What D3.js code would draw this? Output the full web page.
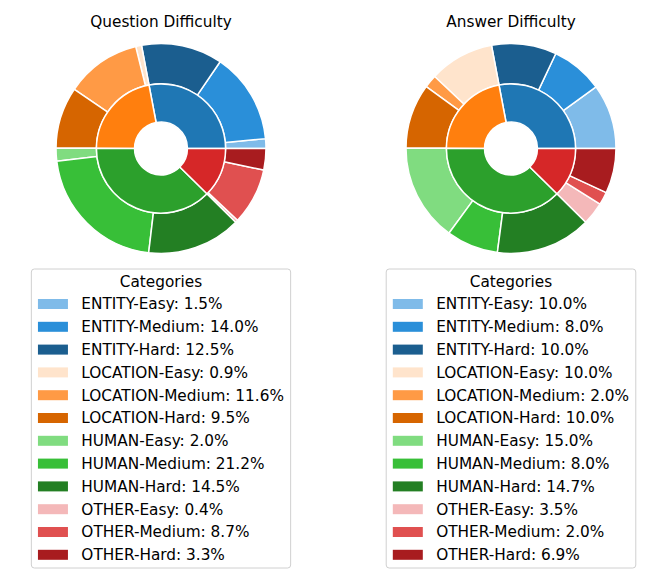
<!DOCTYPE html>
<html>
<head>
<meta charset="utf-8">
<script src="https://cdn.jsdelivr.net/npm/d3@7"></script>
<style>
  html, body { margin: 0; padding: 0; background: #fff; }
  svg { display: block; font-family: "DejaVu Sans", sans-serif; }
</style>
</head>
<body>
<svg id="chart" width="664" height="574"></svg>
<script>
// categories and sub slices
const categories = ["ENTITY", "LOCATION", "HUMAN", "OTHER"];
const levels = ["Easy", "Medium", "Hard"];
const subLabels = categories.flatMap(c => levels.map(l => c + "-" + l));

// percentages
const questionPct = [1.5, 14.0, 12.5, 0.9, 11.6, 9.5, 2.0, 21.2, 14.5, 0.4, 8.7, 3.3];
const answerPct = [10.0, 8.0, 10.0, 10.0, 2.0, 10.0, 15.0, 8.0, 14.7, 3.5, 2.0, 6.9];

const mainColors = ["#1f77b4", "#ff7f0e", "#2ca02c", "#d62728"];
const subColors = [
    "#7fbbe9", "#2a8fd9", "#1b5e8f",
    "#ffe4cc", "#ff9a45", "#d66500",
    "#80dc80", "#38bf38", "#237f23",
    "#f4b8b9", "#e05050", "#a81c1f"
];

const panels = [
    { title: "Question Difficulty", values: questionPct, cx: 161, cy: 148.5, legendTop: 269 },
    { title: "Answer Difficulty", values: answerPct, cx: 511, cy: 148.5, legendTop: 269 }
];

const svg = d3.select("#chart");
const R = 105;
const fontSize = 15.3;

// matplotlib pies start at 3 o'clock and run counterclockwise
const pie = d3.pie().sort(null)
    .startAngle(Math.PI / 2)
    .endAngle(Math.PI / 2 - 2 * Math.PI);

const outerArc = d3.arc().innerRadius(R * 0.615).outerRadius(R);
const innerArc = d3.arc().innerRadius(R * 0.252).outerRadius(R * 0.615);

panels.forEach(p => {
    const g = svg.append("g").attr("transform", `translate(${p.cx},${p.cy})`);

    const mainValues = categories.map((c, i) => d3.sum(p.values.slice(i * 3, i * 3 + 3)));

    g.append("g").selectAll("path")
        .data(pie(p.values))
        .join("path")
        .attr("d", outerArc)
        .attr("fill", (d, i) => subColors[i])
        .attr("stroke", "#fff")
        .attr("stroke-width", 1.5)
        .attr("stroke-linejoin", "round");

    g.append("g").selectAll("path")
        .data(pie(mainValues))
        .join("path")
        .attr("d", innerArc)
        .attr("fill", (d, i) => mainColors[i])
        .attr("stroke", "#fff")
        .attr("stroke-width", 1.5)
        .attr("stroke-linejoin", "round");

    svg.append("text")
        .attr("x", p.cx)
        .attr("y", 27)
        .attr("text-anchor", "middle")
        .attr("font-size", fontSize)
        .attr("fill", "#000")
        .text(p.title);

    // legend
    const lg = svg.append("g");
    const box = lg.append("rect")
        .attr("fill", "#fff")
        .attr("fill-opacity", 0.8)
        .attr("stroke", "#d0d0d0")
        .attr("stroke-width", 1)
        .attr("rx", 3);

    const rowH = 22.8;
    const firstBase = 309.3;
    const items = lg.selectAll("g.item")
        .data(subLabels)
        .join("g")
        .attr("class", "item")
        .attr("transform", (d, i) => `translate(0,${firstBase + i * rowH})`);

    items.append("rect")
        .attr("class", "swatch")
        .attr("y", -10.3)
        .attr("width", 30)
        .attr("height", 10)
        .attr("fill", (d, i) => subColors[i]);

    const labels = items.append("text")
        .attr("font-size", fontSize)
        .attr("fill", "#000")
        .text((d, i) => `${d}: ${p.values[i].toFixed(1)}%`);

    const maxW = d3.max(labels.nodes(), n => n.getComputedTextLength());
    const padL = 6.6, gap = 13.4, padR = 6.7;
    const width = padL + 30 + gap + maxW + padR;
    const left = p.cx - width / 2;

    box.attr("x", left).attr("y", p.legendTop)
        .attr("width", width).attr("height", 299);
    items.select("rect.swatch").attr("x", left + padL);
    labels.attr("x", left + padL + 30 + gap);

    lg.append("text")
        .attr("x", p.cx)
        .attr("y", 286.7)
        .attr("text-anchor", "middle")
        .attr("font-size", fontSize)
        .attr("fill", "#000")
        .text("Categories");
});
</script>
</body>
</html>
